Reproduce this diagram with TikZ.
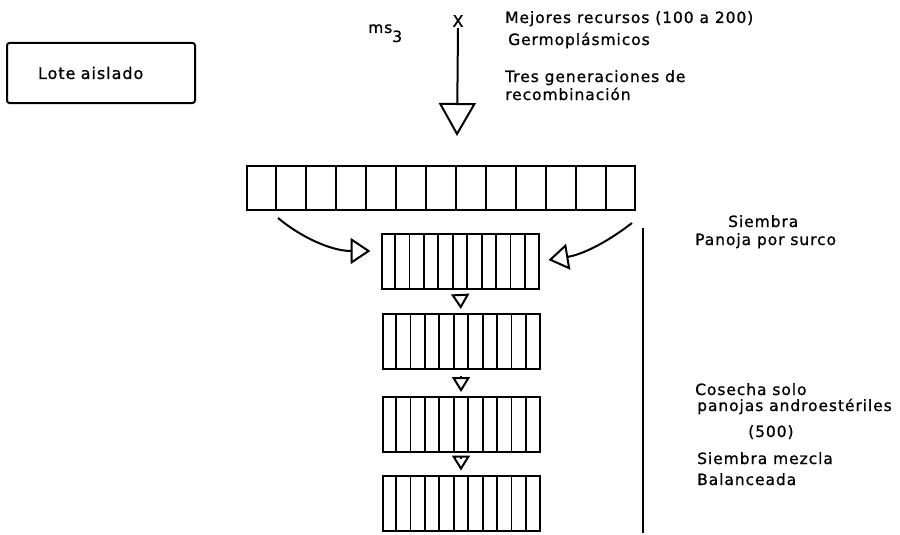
\documentclass[tikz,border=0pt]{standalone}
\usepackage{fontspec}
\setmainfont{DejaVu Sans}[LetterSpace=6,FakeBold=0.9]
\usetikzlibrary{arrows.meta,calc}
\begin{document}
\begin{tikzpicture}[x=1pt,y=-1pt,
  lbl/.style={anchor=base west, inner sep=0pt, font=\fontsize{15.5}{18}\selectfont},
  cellbox/.style={draw, line width=2pt, minimum width=157pt, minimum height=55pt, inner sep=0pt},
  cellline/.style={line width=1.7pt},
  bigarrow/.style={line width=2pt, -{Triangle[open, length=33pt, width=37pt]}},
  curvearrow/.style={line width=2pt, -{Triangle[open, length=20pt, width=26pt]}},
  smallarrow/.style={line width=2pt, shorten <=6pt, shorten >=4pt, -{Triangle[open, length=15pt, width=18pt]}},
  bracket/.style={line width=2pt}
]
\useasboundingbox (0,0) rectangle (900,535);

% Lote aislado
\node[draw, line width=2pt, rounded corners=2.5pt, minimum width=188pt, minimum height=60pt,
      text width=126pt, align=left, inner sep=0pt, font=\fontsize{16}{18}\selectfont]
      (lote) at (101,73) {Lote aislado};

% cross and main arrow
\node[inner sep=1pt, font=\fontsize{16}{18}\selectfont] (cross) at (458,21) {X};
\coordinate (mainend) at (457,136);
\draw[bigarrow] (cross.south) -- (mainend);

\node[lbl] (ms) at (368,33) {ms\raisebox{-9pt}{3}};

\node[lbl] (t1) at (505,23) {Mejores recursos (100 a 200)};
\node[lbl] (t2) at (508,45) {Germoplásmicos};
\node[lbl] (t3) at (505,82) {Tres generaciones de};
\node[lbl] (t4) at (505,100) {recombinación};

% top bar
\node[cellbox, minimum width=388pt, minimum height=44pt] (top) at (441,188) {};
% stacked boxes
\node[cellbox] (b1) at (460,261.5) {};
\node[cellbox] (b2) at (461,341.5) {};
\node[cellbox] (b3) at (461,424.5) {};
\node[cellbox] (b4) at (461,503) {};

\foreach \n/\k in {top/13,b1/11,b2/11,b3/11,b4/11}{
  \pgfmathtruncatemacro\km{\k-1}
  \foreach \i in {1,...,\km}
    \draw[cellline] ($(\n.north west)!\i/\k!(\n.north east)$) -- ($(\n.south west)!\i/\k!(\n.south east)$);
}

% curved arrows
\coordinate (ls) at (278,218);
\coordinate (rs) at (632,223);
\draw[curvearrow] (ls) .. controls (302,238) and (332,251) .. ($(b1.north west)+(-10,18)$);
\draw[curvearrow] (rs) .. controls (610,240) and (585,254) .. ($(b1.north east)+(9,27)$);

% small arrows
\draw[smallarrow] (b1.south) -- (b2.north);
\draw[smallarrow] (b2.south) -- (b3.north);
\draw[smallarrow] (b3.south) -- (b4.north);

% right bracket line
\coordinate (vt) at (643,228);
\coordinate (vb) at (643,533);
\draw[bracket] (vt) -- (vb);

% right labels
\node[lbl] (s1) at (728,227) {Siembra};
\node[lbl] (s2) at (695,245) {Panoja por surco};
\node[lbl] (c1) at (695,395) {Cosecha solo};
\node[lbl] (c2) at (697,411) {panojas androestériles};
\node[lbl] (c3) at (748,437) {(500)};
\node[lbl] (c4) at (697,464) {Siembra mezcla};
\node[lbl] (c5) at (697,485) {Balanceada};
\end{tikzpicture}
\end{document}
